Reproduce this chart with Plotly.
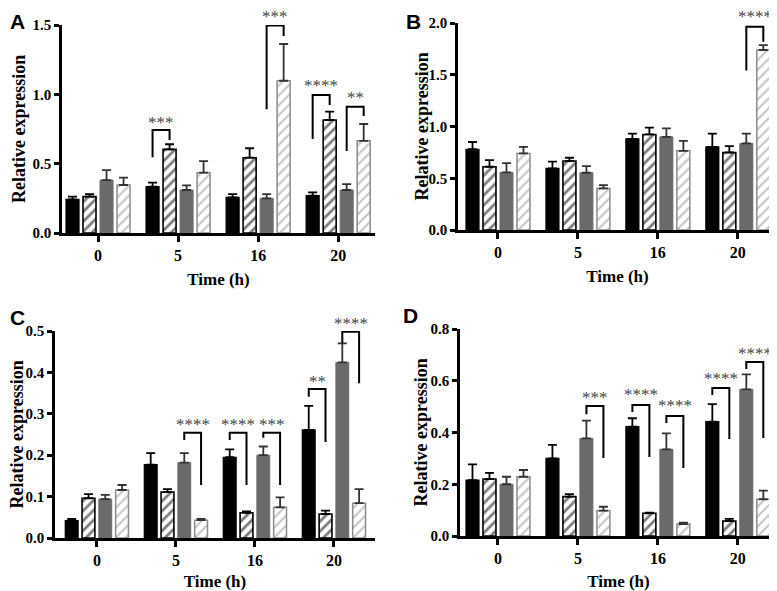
import plotly.graph_objects as go
from plotly.subplots import make_subplots

# --- DATOS ---
TIMES = ['0', '5', '16', '20']
SERIES = ['black', 'black_hatch', 'gray', 'gray_hatch']

# Panel A
a_black = [0.243, 0.334, 0.257, 0.269]
a_black_err = [0.019, 0.029, 0.024, 0.024]
a_hatch = [0.262, 0.603, 0.543, 0.815]
a_hatch_err = [0.019, 0.037, 0.068, 0.060]
a_gray = [0.382, 0.310, 0.250, 0.310]
a_gray_err = [0.072, 0.034, 0.031, 0.043]
a_lhatch = [0.346, 0.435, 1.098, 0.665]
a_lhatch_err = [0.053, 0.084, 0.265, 0.121]

# Panel B
b_black = [0.78, 0.595, 0.881, 0.804]
b_black_err = [0.07, 0.065, 0.051, 0.128]
b_hatch = [0.611, 0.666, 0.923, 0.749]
b_hatch_err = [0.065, 0.032, 0.067, 0.061]
b_gray = [0.556, 0.553, 0.900, 0.836]
b_gray_err = [0.09, 0.065, 0.081, 0.096]
b_lhatch = [0.740, 0.402, 0.765, 1.739]
b_lhatch_err = [0.064, 0.032, 0.097, 0.048]

# Panel C
c_black = [0.042, 0.177, 0.195, 0.261]
c_black_err = [0.004, 0.028, 0.019, 0.058]
c_hatch = [0.096, 0.111, 0.061, 0.058]
c_hatch_err = [0.010, 0.007, 0.003, 0.008]
c_gray = [0.094, 0.182, 0.200, 0.424]
c_gray_err = [0.010, 0.023, 0.021, 0.046]
c_lhatch = [0.116, 0.043, 0.074, 0.084]
c_lhatch_err = [0.012, 0.003, 0.024, 0.034]

# Panel D
d_black = [0.216, 0.300, 0.423, 0.442]
d_black_err = [0.061, 0.052, 0.032, 0.068]
d_hatch = [0.220, 0.152, 0.088, 0.058]
d_hatch_err = [0.024, 0.010, 0.002, 0.008]
d_gray = [0.200, 0.377, 0.335, 0.567]
d_gray_err = [0.029, 0.069, 0.062, 0.058]
d_lhatch = [0.229, 0.098, 0.046, 0.142]
d_lhatch_err = [0.026, 0.015, 0.006, 0.033]

# Corchetes de significancia: (grupo, barra_izq, barra_der, y_arriba, y_pata_izq, y_pata_der, y_texto, texto)
a_brackets = [
    (1, 0, 1, 0.743, 0.546, 0.671, 0.80, '***'),
    (2, 2, 3, 1.497, 0.892, 1.42, 1.56, '***'),
    (3, 0, 1, 0.995, 0.678, 0.923, 1.067, '****'),
    (3, 2, 3, 0.911, 0.591, 0.844, 0.978, '**'),
]
b_brackets = [
    (3, 2, 3, 1.964, 1.54, 1.82, 2.06, '****'),
]
c_brackets = [
    (1, 2, 3, 0.254, 0.237, 0.128, 0.275, '****'),
    (2, 0, 1, 0.254, 0.237, 0.128, 0.275, '****'),
    (2, 2, 3, 0.254, 0.242, 0.128, 0.275, '***'),
    (3, 0, 1, 0.360, 0.341, 0.232, 0.379, '**'),
    (3, 2, 3, 0.498, 0.471, 0.374, 0.519, '****'),
]
d_brackets = [
    (1, 2, 3, 0.502, 0.471, 0.301, 0.537, '***'),
    (2, 0, 1, 0.506, 0.479, 0.305, 0.545, '****'),
    (2, 2, 3, 0.464, 0.437, 0.263, 0.506, '****'),
    (3, 0, 1, 0.572, 0.545, 0.375, 0.607, '****'),
    (3, 2, 3, 0.672, 0.645, 0.379, 0.707, '****'),
]

PANELS = [
    ('A', [a_black, a_hatch, a_gray, a_lhatch], [a_black_err, a_hatch_err, a_gray_err, a_lhatch_err], a_brackets, 1.5, 0.5),
    ('B', [b_black, b_hatch, b_gray, b_lhatch], [b_black_err, b_hatch_err, b_gray_err, b_lhatch_err], b_brackets, 2.0, 0.5),
    ('C', [c_black, c_hatch, c_gray, c_lhatch], [c_black_err, c_hatch_err, c_gray_err, c_lhatch_err], c_brackets, 0.5, 0.1),
    ('D', [d_black, d_hatch, d_gray, d_lhatch], [d_black_err, d_hatch_err, d_gray_err, d_lhatch_err], d_brackets, 0.8, 0.2),
]

# --- ESTILO ---
# la pagina tiene un margen de 8 px en el body: se compensa
OFF = 8
W, H = 777 - OFF, 591 - OFF
BARGAP = 0.15
BARGROUPGAP = 0.235
SLOT = (1 - BARGAP) / 4
SERIF = 'Times New Roman, Liberation Serif, serif'
GRAY = '#6a6a6a'
LGRAY = '#8c8c8c'

# geometria en pixeles de la imagen: (x_eje_y, x_fin, y_cero, y_tope, rango_x, x_titulo_y)
GEOM = [
    (62, 375, 233, 25, [-0.45, 3.46], 19),
    (458, 777, 230, 23, [-0.5, 3.49], 421),
    (55, 375, 538, 331, [-0.53, 3.52], 17),
    (460, 777, 536, 329, [-0.475, 3.49], 420),
]
LETTER_POS = [(8, 3), (404, 1), (8, 304), (401, 302)]


def px_x(x):
    return (x - OFF) / W


def px_y(y):
    return 1 - (y - OFF) / H


def bar_styles():
    return [
        dict(color='black', line=dict(color='black', width=1.2)),
        dict(color='white', line=dict(color='black', width=1.6),
             pattern=dict(shape='/', fgcolor='black', bgcolor='white', size=7, solidity=0.4)),
        dict(color=GRAY, line=dict(color=GRAY, width=1)),
        dict(color='white', line=dict(color=LGRAY, width=1.5),
             pattern=dict(shape='/', fgcolor=LGRAY, bgcolor='white', size=7, solidity=0.3)),
    ]


ERR_COLORS = ['black', 'black', '#333333', '#333333']

fig = make_subplots(rows=2, cols=2)

for p, (letter, means, errs, brackets, ymax, dtick) in enumerate(PANELS):
    row, col = p // 2 + 1, p % 2 + 1
    styles = bar_styles()
    for k in range(4):
        fig.add_trace(go.Bar(
            x=list(range(len(TIMES))), y=means[k],
            marker=styles[k],
            error_y=dict(type='data', array=errs[k], arrayminus=[0] * len(TIMES),
                         symmetric=False, color=ERR_COLORS[k], thickness=1.8, width=4.5),
            showlegend=False, name=SERIES[k],
        ), row=row, col=col)

    x0, x1, yb, yt, xr, ytx = GEOM[p]
    ydom = [px_y(yb), px_y(yt)]
    ax = '' if p == 0 else str(p + 1)
    fig.update_layout(**{
        'xaxis' + ax: dict(
            domain=[max(px_x(x0), 0), min(px_x(x1), 1)], range=xr, automargin=False,
            tickvals=list(range(len(TIMES))), ticktext=TIMES,
            showline=True, linecolor='black', linewidth=2.5,
            ticks='outside', ticklen=6, tickwidth=2.5, tickcolor='black',
            showgrid=False, zeroline=False,
            tickfont=dict(family=SERIF, size=16, color='black', weight='bold'),
            title=dict(text='Time (h)', standoff=11,
                       font=dict(family=SERIF, size=17, color='black', weight='bold')),
        ),
        'yaxis' + ax: dict(
            domain=ydom, range=[0, ymax], automargin=False,
            dtick=dtick, tickformat='.1f',
            showline=True, linecolor='black', linewidth=2.5,
            ticks='outside', ticklen=5, tickwidth=2.5, tickcolor='black',
            showgrid=False, zeroline=False,
            tickfont=dict(family=SERIF, size=15, color='black', weight='bold'),
        ),
    })

    # titulo del eje y como anotacion para fijar su posicion
    fig.add_annotation(x=px_x(ytx), y=(ydom[0] + ydom[1]) / 2, xref='paper', yref='paper',
                       text='Relative expression', textangle=-90, showarrow=False,
                       xanchor='center', yanchor='middle',
                       font=dict(family=SERIF, size=18, color='black', weight='bold'))

    xref = 'x' + ax
    yref = 'y' + ax
    for g, bl, br, ytop, yl, yr, ytxt, label in brackets:
        xl = g + (bl - 1.5) * SLOT
        xrr = g + (br - 1.5) * SLOT
        fig.add_shape(type='path', xref=xref, yref=yref,
                      path=f'M {xl},{yl} L {xl},{ytop} L {xrr},{ytop} L {xrr},{yr}',
                      line=dict(color='black', width=2))
        # texto en coordenadas de papel para que no se oculte fuera del rango
        fig.add_annotation(x=(xl + xrr) / 2, y=ydom[0] + ytxt / ymax * (ydom[1] - ydom[0]),
                           xref=xref, yref='paper',
                           text=label, showarrow=False, yanchor='middle',
                           font=dict(family=SERIF, size=17, color='#444444'))

    lx, ly = LETTER_POS[p]
    fig.add_annotation(x=px_x(lx), y=px_y(max(ly, OFF)), xref='paper', yref='paper',
                       xanchor='left', yanchor='top', text=letter, showarrow=False,
                       font=dict(family='Liberation Sans', size=21, color='black', weight='bold'))

fig.update_layout(
    width=W, height=H,
    margin=dict(l=0, r=0, t=0, b=0),
    barmode='group', bargap=BARGAP, bargroupgap=BARGROUPGAP,
    plot_bgcolor='white', paper_bgcolor='white',
)

fig.write_html("out.html")
